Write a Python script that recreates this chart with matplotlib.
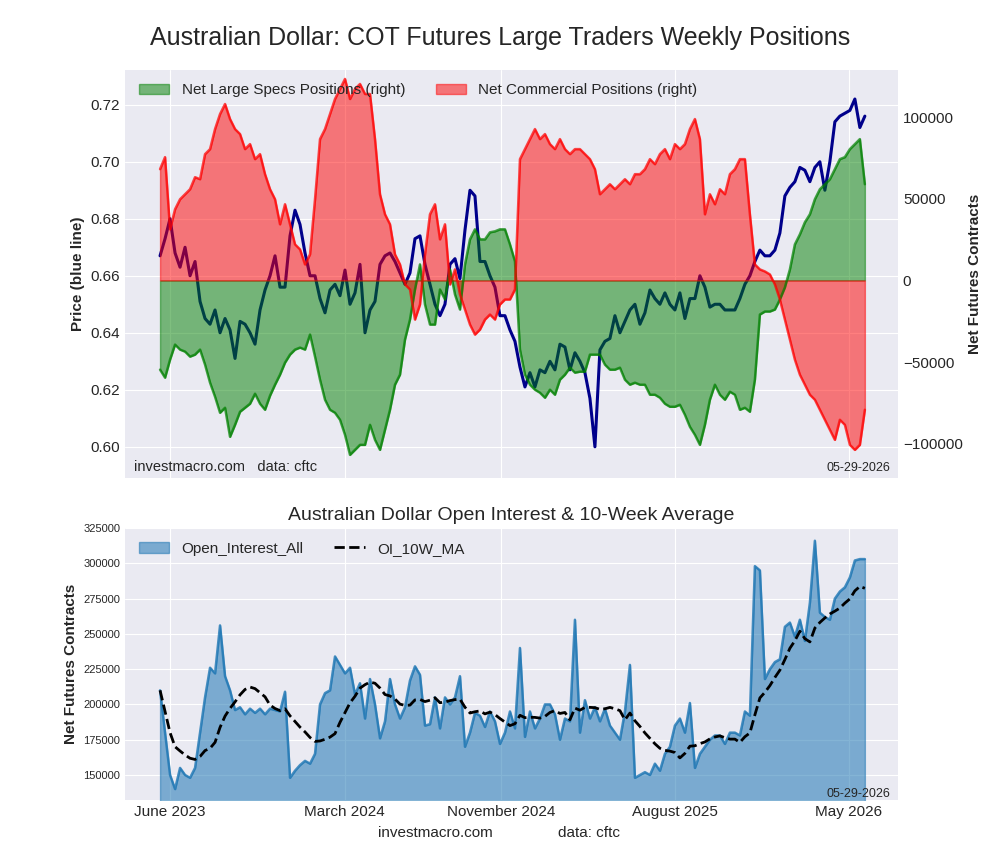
import matplotlib
matplotlib.use("Agg")
import matplotlib.pyplot as plt
import numpy as np
import pandas as pd

price = [0.667,0.673,0.680,0.668,0.663,0.670,0.660,0.665,0.651,0.645,0.643,0.648,0.640,0.645,0.641,0.631,0.644,0.643,0.640,0.636,
0.648,0.655,0.660,0.667,0.656,0.656,0.674,0.683,0.678,0.668,0.660,0.660,0.652,0.647,0.655,0.657,0.653,0.662,0.650,0.654,
0.664,0.640,0.648,0.651,0.664,0.667,0.668,0.665,0.661,0.657,0.661,0.673,0.674,0.664,0.657,0.650,0.646,0.650,0.664,0.666,
0.659,0.676,0.690,0.688,0.665,0.665,0.660,0.656,0.646,0.646,0.641,0.637,0.628,0.621,0.626,0.621,0.627,0.626,0.630,0.627,
0.636,0.635,0.627,0.633,0.630,0.626,0.617,0.600,0.634,0.637,0.638,0.646,0.640,0.644,0.648,0.650,0.643,0.647,0.655,0.652,
0.650,0.654,0.650,0.648,0.654,0.645,0.652,0.652,0.660,0.656,0.649,0.650,0.650,0.648,0.648,0.648,0.652,0.657,0.660,0.665,
0.669,0.667,0.667,0.669,0.675,0.688,0.691,0.693,0.698,0.697,0.693,0.698,0.700,0.690,0.700,0.714,0.716,0.717,0.718,0.722,
0.712,0.716]

specs_px = [370,378,360,345,350,352,357,355,350,365,383,397,413,408,437,425,412,408,404,394,
404,410,396,385,375,363,355,350,348,350,335,357,380,400,410,413,420,435,455,450,
445,445,425,440,450,430,410,385,375,340,320,290,265,305,325,325,290,300,270,295,
310,265,240,230,240,240,233,232,230,230,245,262,350,375,385,390,393,398,390,395,
380,375,368,373,372,372,355,355,355,365,370,370,368,380,385,383,385,385,395,395,
398,404,407,407,405,415,427,435,445,425,400,385,395,400,392,395,410,408,412,380,
315,312,312,310,300,288,270,245,235,223,215,200,190,185,180,170,160,158,150,145,
140,185]
comm_px = [170,158,230,210,200,195,190,178,180,155,150,130,115,105,120,130,135,150,145,160,
155,175,190,200,225,205,225,245,250,265,255,200,140,130,115,100,90,80,100,90,
85,95,95,140,195,215,225,255,265,285,290,320,305,255,215,205,240,225,285,270,
295,310,325,335,330,320,315,320,305,300,300,290,160,150,140,130,140,135,145,150,
140,150,155,150,150,155,160,170,195,190,185,190,185,180,185,175,175,170,160,165,
155,150,160,145,150,145,130,120,140,215,195,205,190,195,175,170,160,160,215,265,
270,272,275,285,300,320,340,360,375,385,395,400,410,420,430,440,420,425,445,450,
445,410]
# net positions (contracts)
net_specs = [round((281 - p) / 1.63 * 1000) for p in specs_px]
net_comm = [round((281 - p) / 1.63 * 1000) for p in comm_px]

open_interest = [210,180,150,140,155,150,148,155,180,205,226,222,256,220,210,196,198,193,197,194,
197,193,197,196,195,209,148,153,157,160,158,165,200,208,210,234,228,222,226,207,
215,190,218,200,176,188,218,200,190,198,217,227,221,185,186,205,183,205,200,205,
220,170,180,194,192,184,195,188,172,180,195,183,240,177,195,183,190,200,200,193,
175,190,188,260,180,203,190,198,188,197,185,180,175,195,228,148,150,152,150,158,
153,165,170,185,190,180,201,155,165,170,175,178,178,172,180,180,178,195,192,298,
295,218,225,230,232,255,258,248,260,245,272,316,265,262,260,275,280,283,290,302,
303,303]
open_interest = [v * 1000 for v in open_interest]

dates = pd.date_range(start="2023-05-16", end="2026-05-26", periods=len(price))
oi = pd.Series(open_interest, index=dates)
oi_ma = oi.rolling(10, min_periods=1).mean()

plt.style.use("seaborn-v0_8-darkgrid")
fig = plt.figure(figsize=(10, 8.6), dpi=100)
ax1 = fig.add_axes([0.125, 0.444, 0.773, 0.475])
ax2 = ax1.twinx()
ax3 = fig.add_axes([0.125, 0.07, 0.773, 0.316])

xlim = (pd.Timestamp("2023-03-22"), pd.Timestamp("2026-07-17"))

ax1.plot(dates, price, color="darkblue", lw=2.2)
ax1.set_ylim(0.589, 0.7323)
ax1.set_xlim(xlim)
ax1.set_ylabel("Price (blue line)", fontsize=11, fontweight="bold")
ax1.tick_params(labelsize=11)
ax1.set_xticklabels([])

ax2.fill_between(dates, 0, net_specs, color="green", alpha=0.5, label="Net Large Specs Positions (right)")
ax2.plot(dates, net_specs, color="green", alpha=0.7, lw=1.8)
ax2.fill_between(dates, 0, net_comm, color="red", alpha=0.5, label="Net Commercial Positions (right)")
ax2.plot(dates, net_comm, color="red", alpha=0.7, lw=1.8)
ax2.set_ylim(-121000, 129000)
ax2.set_yticks([-100000, -50000, 0, 50000, 100000])
ax2.set_ylabel("Net Futures Contracts", fontsize=11, fontweight="bold")
ax2.tick_params(labelsize=11)
ax2.grid(False)
ax2.set_xlim(xlim)
ax2.legend(loc="upper left", ncol=2, fontsize=11, frameon=False)
ax1.text(0.012, 0.01, "investmacro.com   data: cftc", transform=ax1.transAxes, fontsize=10.5, va="bottom")
ax1.text(0.99, 0.01, "05-29-2026", transform=ax1.transAxes, fontsize=9, va="bottom", ha="right")
fig.suptitle("Australian Dollar: COT Futures Large Traders Weekly Positions", fontsize=18, y=0.97)

ax3.fill_between(dates, 0, oi.values, color="tab:blue", alpha=0.55, label="Open_Interest_All")
ax3.plot(dates, oi.values, color="tab:blue", alpha=0.8, lw=1.8)
ax3.plot(dates, oi_ma.values, color="black", ls="--", lw=2, label="OI_10W_MA")
ax3.set_ylim(132400, 325000)
ax3.set_yticks(np.arange(150000, 325001, 25000))
ax3.tick_params(axis="y", labelsize=8)
ax3.set_xlim(xlim)
ticks = pd.to_datetime(["2023-06-01", "2024-03-01", "2024-11-01", "2025-08-01", "2026-05-01"])
ax3.set_xticks(ticks)
ax3.set_xticklabels(["June 2023", "March 2024", "November 2024", "August 2025", "May 2026"], fontsize=11)
ax1.set_xticks(ticks)
ax3.set_ylabel("Net Futures Contracts", fontsize=11, fontweight="bold")
ax3.set_title("Australian Dollar Open Interest & 10-Week Average", fontsize=14)
ax3.legend(loc="upper left", ncol=2, fontsize=11, frameon=False)
ax3.text(0.99, 0.0, "05-29-2026", transform=ax3.transAxes, fontsize=9, va="bottom", ha="right")
fig.text(0.378, 0.027, "investmacro.com", fontsize=11)
fig.text(0.558, 0.027, "data: cftc", fontsize=11)

fig.savefig("out.png", dpi=100)
